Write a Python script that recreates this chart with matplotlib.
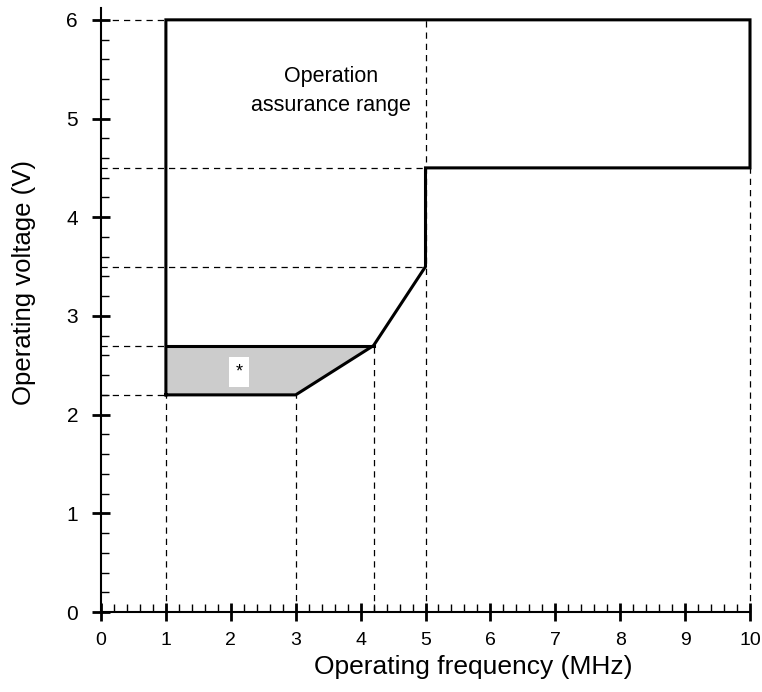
import matplotlib
matplotlib.use("Agg")
import matplotlib.pyplot as plt
from matplotlib.ticker import MultipleLocator

plt.rcParams['font.family'] = ['Liberation Sans', 'DejaVu Sans']

# Boundary of operation assurance range (frequency MHz, voltage V)
boundary_f = [1, 1, 10, 10, 5, 5, 4.2, 3, 1]
boundary_v = [2.2, 6, 6, 4.5, 4.5, 3.5, 2.7, 2.2, 2.2]
# shaded (*) region
shade_f = [1, 3, 4.2, 1]
shade_v = [2.2, 2.2, 2.7, 2.7]
# guide lines: horizontal (voltage, to frequency) and vertical (frequency, to voltage)
hguide_v = [6, 4.5, 3.5, 2.7, 2.2]
hguide_f = [1, 5, 5, 1, 1]
vguide_f = [1, 3, 4.2, 5, 10]
vguide_v = [2.2, 2.2, 2.7, 6, 4.5]
xticks = list(range(0, 11))
yticks = list(range(0, 7))

W, H = 762, 692
fig = plt.figure(figsize=(W/100, H/100), dpi=100)
ax = fig.add_axes([101/W, (H-612)/H, 649/W, 604/H])
ax.set_xlim(0, 10)
ax.set_ylim(0, 6.12)

for v, f in zip(hguide_v, hguide_f):
    ax.plot([0, f], [v, v], color='black', lw=0.9, ls=(0, (5, 4)), zorder=1)
for f, v in zip(vguide_f, vguide_v):
    ax.plot([f, f], [0, v], color='black', lw=0.9, ls=(0, (5, 4)), zorder=1, clip_on=False)

ax.fill(shade_f, shade_v, color='#cccccc', zorder=2, lw=0)
ax.plot(boundary_f, boundary_v, color='black', lw=2.2, zorder=3, clip_on=False,
        solid_joinstyle='miter')
ax.plot([1, 4.2], [2.7, 2.7], color='black', lw=2.2, zorder=3)

ax.text(3.55, 5.28, 'Operation\nassurance range', ha='center', va='center',
        fontsize=15.5, linespacing=1.55)
ax.text(2.13, 2.43, '*', ha='center', va='center', fontsize=13,
        bbox=dict(facecolor='white', edgecolor='none', pad=4.5))

for s in ['top', 'right']:
    ax.spines[s].set_visible(False)
for s in ['left', 'bottom']:
    ax.spines[s].set_linewidth(1.5)

ax.set_xticks(xticks)
ax.set_yticks(yticks)
ax.xaxis.set_minor_locator(MultipleLocator(0.2))
ax.yaxis.set_minor_locator(MultipleLocator(0.2))
ax.tick_params(which='major', direction='inout', length=13, width=2, labelsize=15)
ax.tick_params(axis='x', which='major', pad=8, labelsize=14)
ax.tick_params(axis='y', which='major', pad=10)
ax.tick_params(which='minor', direction='in', length=6, width=1)
ax.set_xlabel('Operating frequency (MHz)', fontsize=19)
ax.set_ylabel('Operating voltage (V)', fontsize=18.5)
ax.xaxis.set_label_coords(0.573, -0.071)
ax.yaxis.set_label_coords(-0.1, 0.545)

fig.savefig('out.png', dpi=100)
